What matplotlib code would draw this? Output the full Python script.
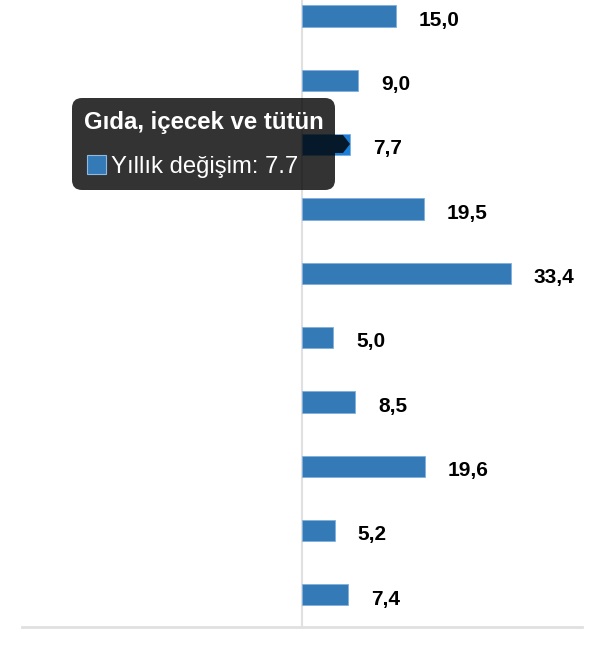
import matplotlib
matplotlib.use("Agg")
import matplotlib.pyplot as plt
from matplotlib.patches import FancyBboxPatch, Polygon, Rectangle

plt.rcParams['font.family'] = ['Liberation Sans', 'DejaVu Sans']

# yearly change per sector (top to bottom)
values = [15.0, 9.0, 7.7, 19.5, 33.4, 5.0, 8.5, 19.6, 5.2, 7.4]
hover_index = 2
hover_name = "Gıda, içecek ve tütün"
series_name = "Yıllık değişim"

bar_color = "#337ab7"
hover_color = "#1c80d8"

fig = plt.figure(figsize=(6, 6.5), dpi=100)
ax = fig.add_axes([22 / 600, 23 / 650, 560 / 600, 627 / 650])

pos = list(range(len(values)))
colors = [hover_color if i == hover_index else bar_color for i in pos]
ax.barh(pos, values, height=0.33, color=colors, edgecolor="#7fb0dc", linewidth=0.6, zorder=3)

for p, v in zip(pos, values):
    ax.annotate(f"{v:.1f}".replace(".", ","), xy=(v, p), xytext=(16.5, -3),
                textcoords="offset points", ha="left", va="center",
                fontsize=15, fontweight="bold", color="black", zorder=4)

ax.set_xlim(-44.8, 44.8)
ax.set_ylim(9.5, -0.25)
ax.axvline(0, color="#e0e0e0", lw=1.5, zorder=1)
for s in ["top", "left", "right"]:
    ax.spines[s].set_visible(False)
ax.spines["bottom"].set_color("#e0e0e0")
ax.spines["bottom"].set_linewidth(2)
ax.set_xticks([])
ax.set_yticks([])

# tooltip overlay in pixel coordinates
ov = fig.add_axes([0, 0, 1, 1])
ov.set_xlim(0, 600)
ov.set_ylim(650, 0)
ov.axis("off")
ov.patch.set_alpha(0)

box = FancyBboxPatch((72, 98), 263, 92, boxstyle="round,pad=0,rounding_size=10",
                     facecolor="black", alpha=0.8, edgecolor="none", zorder=5)
ov.add_patch(box)
arrow = Polygon([(335, 135), (343, 135), (350, 144), (343, 153), (335, 153)],
                closed=True, facecolor="black", alpha=0.8, edgecolor="none", zorder=5)
ov.add_patch(arrow)

ov.text(84, 129, hover_name, color="white", fontsize=17.3, fontweight="bold",
        ha="left", va="baseline", zorder=6)
ov.add_patch(Rectangle((87, 155), 19, 19, facecolor=bar_color, edgecolor="#8fbbe3",
                       linewidth=0.8, zorder=6))
ov.text(111, 173, f"{series_name}: {values[hover_index]}", color="white", fontsize=17.2,
        ha="left", va="baseline", zorder=6)

fig.savefig("out.png", dpi=100)
